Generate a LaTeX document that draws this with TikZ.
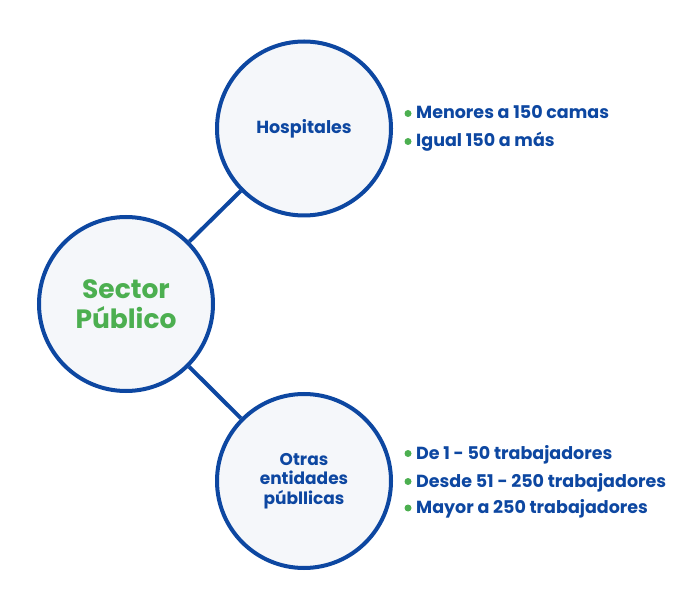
\documentclass[tikz,border=0pt]{standalone}
\usepackage{fontspec}
\setmainfont{Poppins}
\definecolor{navy}{HTML}{0D47A1}
\definecolor{leaf}{HTML}{4CAF50}
\definecolor{pale}{HTML}{F5F7FA}
\begin{document}
\begin{tikzpicture}[x=1pt,y=1pt,
  bubble/.style={circle,draw=navy,line width=4pt,fill=pale,minimum size=174pt,inner sep=0pt,align=center},
  link/.style={draw=navy,line width=4pt},
  dot/.style={circle,fill=leaf,inner sep=0pt,minimum size=7pt},
  item/.style={anchor=base west,inner sep=0pt,text=navy,font=\bfseries\fontsize{17.5}{20}\selectfont}]
\useasboundingbox (0,0) rectangle (674,608);
% the three bubbles
\node[bubble,text=leaf,font=\bfseries\fontsize{26.5}{30}\selectfont] (sec) at (126,304) {Sector\\Público};
\node[bubble,text=navy,font=\bfseries\fontsize{17.5}{20}\selectfont] (hosp) at (304,479.5) {Hospitales};
\node[bubble,text=navy,font=\bfseries\fontsize{17}{19.5}\selectfont] (otras) at (304,127) {Otras\\entidades\\públlicas};
% links between bubbles
\draw[link] (sec) -- (hosp);
\draw[link] (sec) -- (otras);
% hospital sizes
\node[dot] (d1) at (408,494.5) {};
\node[item] (h1) at (416,489) {Menores a 150 camas};
\node[dot] (d2) at (408,466.5) {};
\node[item] (h2) at (416,461) {Igual 150 a más};
% other entity sizes
\node[dot] (d3) at (408,154.5) {};
\node[item] (o1) at (416,149) {De 1 - 50 trabajadores};
\node[dot] (d4) at (408,126.5) {};
\node[item] (o2) at (416,121) {Desde 51 - 250 trabajadores};
\node[dot] (d5) at (408,100) {};
\node[item] (o3) at (416,95) {Mayor a 250 trabajadores};
\end{tikzpicture}
\end{document}
